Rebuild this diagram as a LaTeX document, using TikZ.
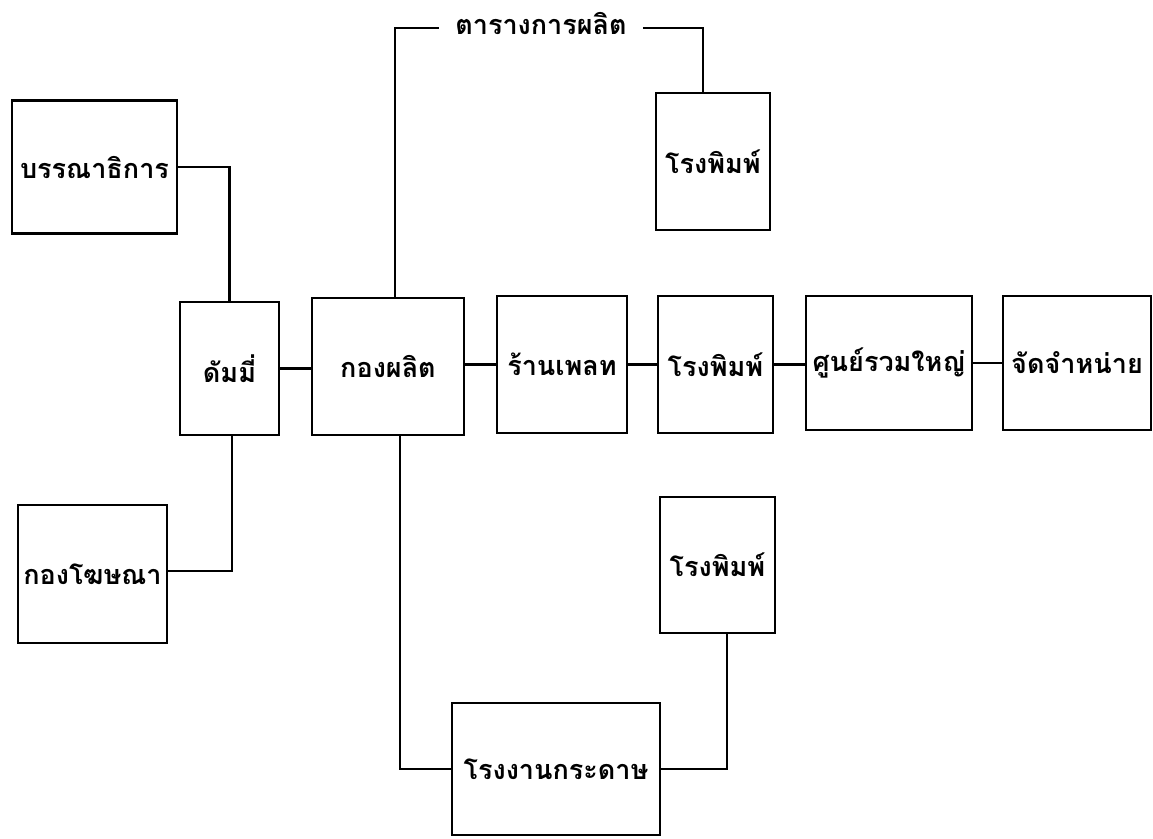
\documentclass[tikz,border=0pt]{standalone}
\usepackage{fontspec}
\newfontfamily\thaifont[Script=Thai]{Loma}
\begin{document}
\begin{tikzpicture}[x=1pt,y=-1pt,
  box/.style={draw, line width=2.4pt, rectangle, inner sep=0pt, font=\thaifont\bfseries\fontsize{27}{30}\selectfont},
  conn/.style={line width=2.4pt},
  lbl/.style={inner xsep=16pt, inner ysep=0pt, font=\thaifont\bfseries\fontsize{27}{30}\selectfont}]
\useasboundingbox (0,0) rectangle (1153,838);
\node[box, minimum width=165pt, minimum height=133pt] (edit) at (94.5,167) {บรรณาธิการ};
\node[box, minimum width=99pt, minimum height=133pt] (dummy) at (229.5,368.5) {ดัมมี่};
\node[box, minimum width=149pt, minimum height=138pt] (ads) at (92.5,574) {กองโฆษณา};
\node[box, minimum width=152pt, minimum height=137pt] (prod) at (388,366.5) {กองผลิต};
\node[box, minimum width=130pt, minimum height=137pt] (plate) at (562,364.5) {ร้านเพลท};
\node[box, minimum width=115pt, minimum height=137pt] (print2) at (715.5,364.5) {โรงพิมพ์};
\node[box, minimum width=166pt, minimum height=134pt] (hub) at (889,363) {ศูนย์รวมใหญ่};
\node[box, minimum width=148pt, minimum height=134pt] (dist) at (1077,363) {จัดจำหน่าย};
\node[box, minimum width=114pt, minimum height=137pt] (print1) at (713,161.5) {โรงพิมพ์};
\node[box, minimum width=115pt, minimum height=136pt] (print3) at (717.5,565) {โรงพิมพ์};
\node[box, minimum width=208pt, minimum height=132pt] (paper) at (556,769) {โรงงานกระดาษ};
\node[lbl] (sched) at (541,23) {ตารางการผลิต};
\draw[conn] (edit.east |- 0,167) -| (dummy.north);
\draw[conn] ([xshift=2.5pt]dummy.south) |- (ads.east |- 0,571);
\draw[conn] (dummy.east) -- (prod.west |- dummy.east);
\draw[conn] (prod.east |- plate.west) -- (plate.west);
\draw[conn] (plate.east) -- (print2.west);
\draw[conn] (print2.east) -- (hub.west |- print2.east);
\draw[conn] (hub.east) -- (dist.west);
\draw[conn] ([xshift=7pt]prod.north) |- ([yshift=-5pt]sched.west);
\draw[conn] ([yshift=-5pt]sched.east) -| ([xshift=-10pt]print1.north);
\draw[conn] ([xshift=12pt]prod.south) |- (paper.west);
\draw[conn] ([xshift=9.5pt]print3.south) |- (paper.east);
\end{tikzpicture}
\end{document}
